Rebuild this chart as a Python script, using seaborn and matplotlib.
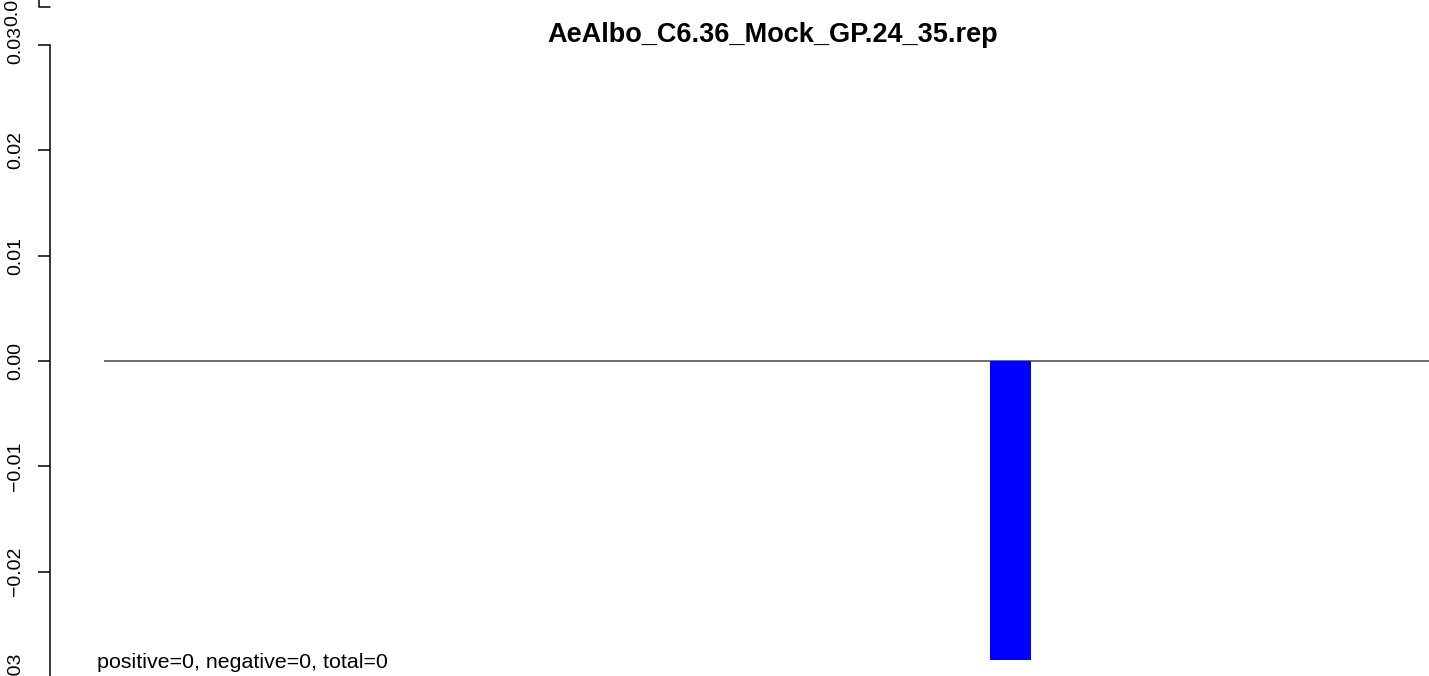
import numpy as np
import pandas as pd
import seaborn as sns
import matplotlib.pyplot as plt
from matplotlib.lines import Line2D

# data
positions = list(range(1, 33))
values = [0.0] * 32
values[21] = -0.02837   # only non-zero bar, at position 22
yticks = [-0.03, -0.02, -0.01, 0.00, 0.01, 0.02, 0.03]
ytick_labels = ["\u22120.03", "\u22120.02", "\u22120.01", "0.00", "0.01", "0.02", "0.03"]
title = "AeAlbo_C6.36_Mock_GP.24_35.rep"
note = "positive=0, negative=0, total=0"

sns.set_style("white")
plt.rcParams['font.family'] = ['Liberation Sans', 'DejaVu Sans']
plt.rcParams['text.color'] = 'black'
plt.rcParams['ytick.color'] = 'black'
plt.rcParams['ytick.labelcolor'] = 'black'

W, H = 1429, 676
fig = plt.figure(figsize=(W / 100, H / 100), dpi=100)

# pixel scale
px_per_y = 10540.0
y_zero_px = 361
y_top = y_zero_px / px_per_y
y_bot = -0.0335
bot_px = y_zero_px + (-y_bot) * px_per_y
ax_left = 50
ax = fig.add_axes([ax_left / W, -(bot_px - H) / H, 1 - ax_left / W, bot_px / H])

df = pd.DataFrame({"pos": positions, "val": values})
sns.barplot(data=df, x="pos", y="val", native_scale=True, color="blue",
            saturation=1, width=1, linewidth=0, ax=ax)

px_per_x = 41.2
x_left = -(104 - ax_left) / px_per_x
x_right = (W - 104) / px_per_x
ax.set_xlim(x_left, x_right)
ax.set_ylim(y_bot, y_top)

ax.hlines(0, 0, x_right + 1, color="#555555", linewidth=1.2, zorder=0)

for s in ["top", "right", "bottom"]:
    ax.spines[s].set_visible(False)
ax.spines["left"].set_bounds(-0.03, 0.03)
ax.spines["left"].set_linewidth(1.1)
ax.spines["left"].set_color("black")

ax.set_xticks([])
ax.set_yticks(yticks)
ax.set_yticklabels(ytick_labels)
ax.tick_params(axis="y", direction="out", length=8.6, width=1.1, pad=10,
               labelsize=14, left=True, colors="black")
plt.setp(ax.get_yticklabels(), rotation=90, va="center")
ax.set_xlabel("")
ax.set_ylabel("")

ax.text(-(104 - 97) / px_per_x, (y_zero_px - 662) / px_per_y, note,
        ha="left", va="center", fontsize=15.4, color="black")

fig.text(773 / W, 1 - 35 / H, title, ha="center", va="center",
         fontsize=19.5, fontweight="bold", color="black")

# leftover axis fragment at the very top edge
fig.add_artist(Line2D([39 / W, 39 / W, 50 / W], [1, 1 - 7 / H, 1 - 7 / H],
                      color="black", linewidth=1.1, transform=fig.transFigure))
fig.text(13 / W, 1 - 7 / H, "0.03", rotation=90, ha="center", va="center",
         fontsize=14, color="black")

fig.savefig("out.png", dpi=100)
